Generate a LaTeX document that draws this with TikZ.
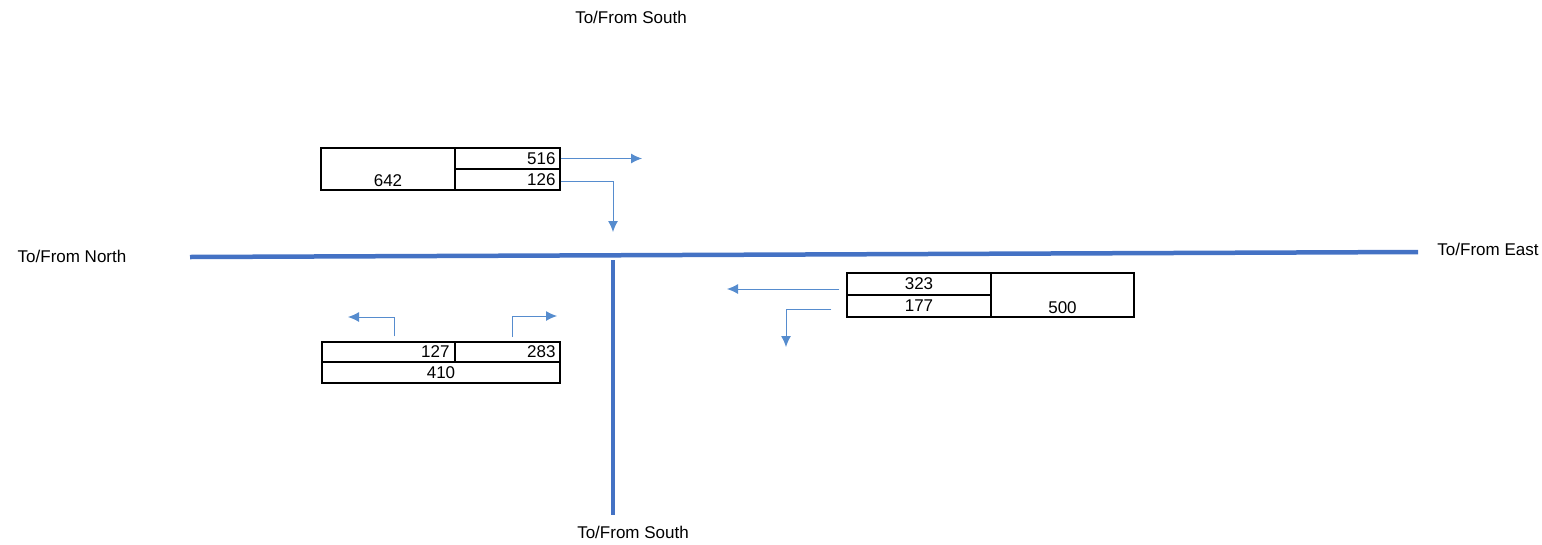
\documentclass[tikz,border=0pt]{standalone}
\usepackage{fontspec}
\setmainfont{Liberation Sans}
\usetikzlibrary{arrows.meta,positioning}
\definecolor{roadblue}{RGB}{68,114,196}
\definecolor{flowblue}{RGB}{86,140,206}

\begin{document}
\begin{tikzpicture}[x=1pt, y=-1pt, font=\fontsize{17}{20}\selectfont,
  cell/.style={draw, line width=1.3pt, rectangle, inner sep=0pt},
  rnum/.style={cell, align=right},
  road/.style={roadblue, line width=4.5pt},
  flow/.style={-{Latex[length=11pt,width=10pt]}, flowblue, line width=1pt}]
\useasboundingbox (0,0) rectangle (1542,544);
\draw
  node at (72,256)(north){To/From North}
  node at (1488,249)(east){To/From East}
  node at (631,17)(southtop){To/From South}
  node at (633,532)(southbot){To/From South}
  % north-west corner
  node at (388,169)[cell, minimum width=134pt, minimum height=42pt,
    label={[anchor=south]south:642}](c642){}
  node at (507.5,158.5)[rnum, minimum width=105pt, minimum height=21pt, text width=96pt](c516){516}
  node at (507.5,179.5)[rnum, minimum width=105pt, minimum height=21pt, text width=96pt](c126){126}
  % south-west corner
  node at (388.5,352)[rnum, minimum width=133pt, minimum height=20pt, text width=122pt](c127){127}
  node at (507.5,352)[rnum, minimum width=105pt, minimum height=20pt, text width=96pt](c283){283}
  node at (441,372.5)[cell, minimum width=238pt, minimum height=21pt](c410){410}
  % east side
  node at (919,284)[cell, minimum width=144pt, minimum height=22pt](c323){323}
  node at (919,306)[cell, minimum width=144pt, minimum height=22pt](c177){177}
  node at (1062.5,295)[cell, minimum width=143pt, minimum height=44pt,
    label={[anchor=south]south:500}](c500){};

% roads
\coordinate (wend) at (190,257);
\coordinate (eend) at (1418,252);
\coordinate (jtop) at (613,260);
\coordinate (jbot) at (613,515);
\draw[road] (wend) -- (eend);
\draw[road] (jtop) -- (jbot);

% turning movements
\coordinate (t516) at (642,158.5);
\coordinate (t126) at (613,232);
\coordinate (s127) at ([xshift=5.5pt, yshift=5pt]c127.north);
\coordinate (t127) at (348,317);
\coordinate (s283) at (512,337);
\coordinate (t283) at (557,316);
\coordinate (s323) at ([xshift=-7pt, yshift=-5pt]c323.west);
\coordinate (t323) at (727,289);
\coordinate (s177) at ([xshift=-15pt, yshift=-3pt]c177.west);
\coordinate (t177) at (786,347);
\draw[flow] (c516.east) -- (t516);
\draw[flow] ([yshift=-2pt]c126.east) -| (t126);
\draw[flow] (s127) |- (t127);
\draw[flow] (s283) |- (t283);
\draw[flow] (s323) -- (t323);
\draw[flow] (s177) -| (t177);
\end{tikzpicture}
\end{document}
